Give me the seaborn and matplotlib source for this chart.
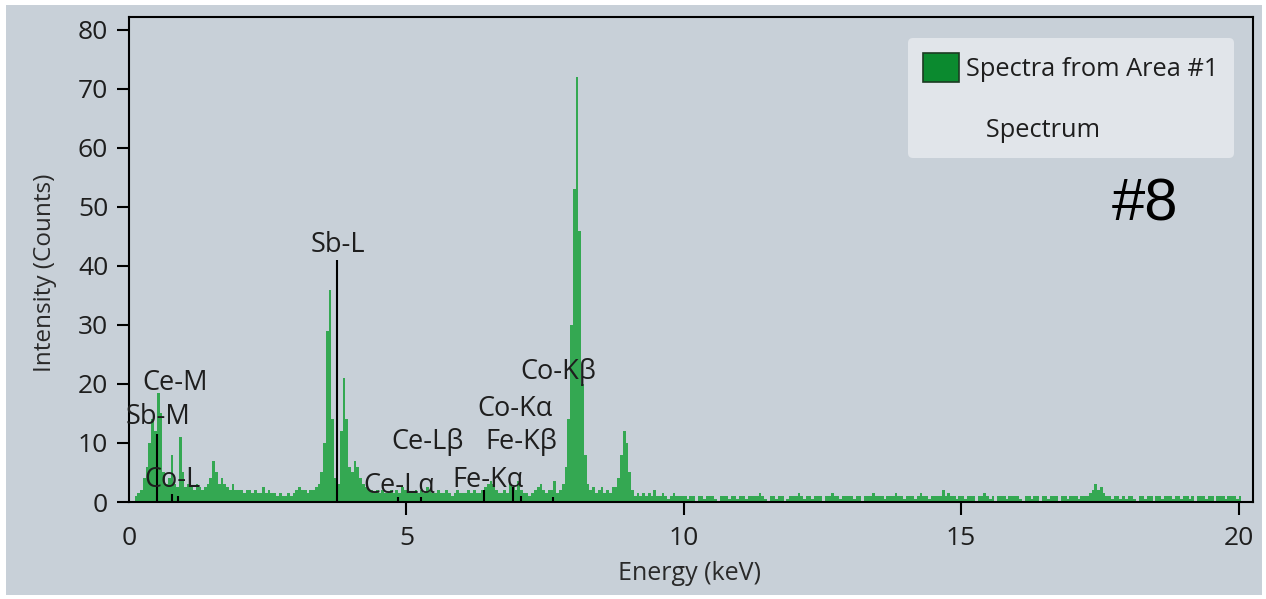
import numpy as np
import pandas as pd
import matplotlib
matplotlib.use("Agg")
import matplotlib.pyplot as plt
import seaborn as sns
from matplotlib.patches import Patch, Rectangle

# ---------------- data ----------------
BIN_WIDTH = 0.05  # keV per channel group
# counts per 0.05 keV bin, one row per keV (0-1, 1-2, ...)
counts_0 = [0, 0, 1, 1.5, 2, 4, 6, 10, 14, 12, 18.5, 15, 5, 3, 4, 8, 3, 2.5, 11, 5]
counts_1 = [2.5, 3, 2.5, 2, 3, 2.5, 2, 2.5, 3, 4, 7, 5, 3, 4, 3, 2.5, 2, 3, 2, 2]
counts_2 = [2, 1.5, 2, 2, 1.5, 2, 1.5, 1.5, 2.5, 1.5, 2, 1.5, 1.5, 1, 1.5, 1, 1, 1.5, 1, 1.5]
counts_3 = [2, 2.5, 2, 2, 1.5, 2, 2, 2.5, 3, 5, 10, 29, 36, 14, 4, 3, 12, 21, 14, 6]
counts_4 = [5, 7, 6, 4, 3, 2.5, 2, 2, 1.5, 2, 1.5, 2, 1.5, 1.5, 2, 1.5, 2, 1.5, 2.5, 2]
counts_5 = [2, 1.5, 1.5, 2, 1.5, 2, 1.5, 2.5, 2, 1.5, 1.5, 2, 1.5, 1.5, 2, 1.5, 1, 1.5, 2, 1.5]
counts_6 = [1.5, 1.5, 2, 1.5, 2, 1.5, 1.5, 2, 2.5, 3, 3.5, 3, 2, 1.5, 1.5, 2, 1.5, 3, 2.5, 2]
counts_7 = [3.5, 2, 1.5, 1.5, 1, 1.5, 2, 2.5, 3, 2, 1.5, 2, 2, 3.5, 1.5, 2, 3, 6, 14, 30]
counts_8 = [53, 72, 46, 20, 8, 3, 2, 2.5, 1.5, 2, 2.5, 1.5, 2, 1.5, 2.5, 2.5, 4, 8, 12, 10]
counts_9 = [5, 2, 1, 1.5, 1, 1.5, 1, 1.5, 1, 2, 1, 1, 1.5, 1, 0.5, 1, 1.5, 1, 1, 1]
counts_10 = [1, 0.5, 1, 1, 0, 1, 1, 0.5, 1, 1, 1, 0.5, 0, 1, 1, 1, 0.5, 1, 1, 0.5]
counts_11 = [1, 1, 0.5, 1, 1, 1, 1, 1.5, 1, 0.5, 0, 1, 1, 0.5, 1, 1, 0, 0.5, 1, 1]
counts_12 = [1, 1.5, 1, 0.5, 1, 1, 0.5, 1, 1, 1, 0, 1, 1, 1.5, 1, 1, 0.5, 1, 1, 1]
counts_13 = [1, 0.5, 1, 1, 0, 1, 1, 1, 1.5, 1, 1, 1, 0.5, 1, 1, 1, 1.5, 1, 1, 0.5]
counts_14 = [1, 1, 1, 0.5, 1, 1.5, 1, 1, 0.5, 1, 1, 1, 1, 2, 1, 1.5, 1, 1, 0.5, 1]
counts_15 = [1, 0.5, 1, 1, 1, 0, 1, 1, 1.5, 1, 0.5, 1, 0, 1, 1, 1, 0.5, 1, 1, 1]
counts_16 = [1, 0.5, 0, 1, 1, 0.5, 1, 1, 0, 1, 1, 0.5, 1, 1, 1, 0, 1, 1, 0.5, 1]
counts_17 = [1, 1, 0.5, 1, 1, 1, 1.5, 2, 3, 2, 2.5, 1.5, 1, 1, 0.5, 1, 1, 0.5, 1, 0.5]
counts_18 = [1, 1, 0.5, 0, 1, 1, 0.5, 1, 1, 0, 1, 1, 0.5, 1, 1, 1, 0.5, 1, 1, 0.5]
counts_19 = [1, 1, 0.5, 1, 0, 1, 1, 1, 0.5, 1, 1, 0, 1, 1, 1, 0.5, 1, 1, 1, 0.5]
counts_20 = [1]

counts = (counts_0 + counts_1 + counts_2 + counts_3 + counts_4 + counts_5 + counts_6
          + counts_7 + counts_8 + counts_9 + counts_10 + counts_11 + counts_12 + counts_13
          + counts_14 + counts_15 + counts_16 + counts_17 + counts_18 + counts_19 + counts_20)
energy = np.round(np.arange(len(counts)) * BIN_WIDTH + BIN_WIDTH / 2, 3)

# element marker lines (keV, height in counts)
line_energy = [0.50, 0.78, 0.88, 3.75, 4.84, 5.26, 6.40, 6.93, 7.06, 7.65]
line_height = [11.5, 1.4, 1.0, 41, 0.8, 0.8, 2.0, 2.5, 1.0, 0.8]

# element labels
label_text = ["Ce-M", "Sb-M", "Co-L", "Sb-L", "Ce-L\u03b1", "Ce-L\u03b2",
              "Fe-K\u03b1", "Fe-K\u03b2", "Co-K\u03b1", "Co-K\u03b2"]
label_x = [0.83, 0.52, 0.79, 3.77, 4.88, 5.39, 6.47, 7.08, 6.95, 7.73]
label_y = [20.2, 14.4, 3.7, 43.6, 2.7, 10.2, 3.7, 10.2, 15.8, 22.0]

x_ticks = [0, 5, 10, 15, 20]
y_ticks = [0, 10, 20, 30, 40, 50, 60, 70, 80]

BG = "#c8d0d8"
BAR = "#24a443"
TXT = "#1e1e1e"

# ---------------- plot ----------------
sns.set_theme(style="white")
plt.rcParams['font.family'] = ['Open Sans', 'DejaVu Sans']

fig = plt.figure(figsize=(12.66, 5.99), dpi=100, facecolor="white")
fig.patches.append(Rectangle((6 / 1266, 4 / 599), 1256 / 1266, 590 / 599,
                             transform=fig.transFigure, facecolor=BG,
                             edgecolor="none", zorder=-10))
ax = fig.add_axes([129 / 1266, 97 / 599, 1124 / 1266, 485 / 599])
ax.set_facecolor("none")

df = pd.DataFrame({"Energy": energy, "Counts": np.asarray(counts, dtype=float)})
sns.histplot(data=df, x="Energy", weights="Counts",
             binwidth=BIN_WIDTH, binrange=(0, len(counts) * BIN_WIDTH),
             color=BAR, alpha=0.9, edgecolor="none", linewidth=0, ax=ax)

ax.vlines(line_energy, 0, line_height, color="black", lw=1.5, zorder=3)
for t, x, y in zip(label_text, label_x, label_y):
    ax.text(x, y, t, ha="center", va="center", fontsize=19.5, color=TXT, zorder=4)

ax.set_xlim(0, 20.26)
ax.set_ylim(0, 82.2)
ax.set_xticks(x_ticks)
ax.set_yticks(y_ticks)
ax.tick_params(axis="both", which="major", direction="out", length=9, width=1.5,
               color="black", labelsize=19, labelcolor=TXT, pad=6,
               bottom=True, left=True)
ax.tick_params(axis="x", pad=8)
ax.xaxis.get_major_ticks()[0].tick1line.set_visible(False)
for s in ax.spines.values():
    s.set_visible(True)
    s.set_color("black")
    s.set_linewidth(1.5)

ax.set_xlabel("Energy (keV)", fontsize=18, color="#2a2a2a")
ax.set_ylabel("Intensity (Counts)", fontsize=17.5, color="#2a2a2a")
ax.xaxis.set_label_coords(0.499, -0.122)
ax.yaxis.set_label_coords(-0.064, 0.472)

handles = [Patch(facecolor="#0b8a2f", edgecolor="#1b3b22", linewidth=1.2),
           Patch(facecolor="none", edgecolor="none")]
labels = ["Spectra from Area #1", "   Spectrum"]
leg = ax.legend(handles, labels, loc="upper right",
                bbox_to_anchor=(1234 / 1266, 1 - 38 / 599), bbox_transform=fig.transFigure,
                borderaxespad=0, fontsize=18.3, frameon=True, fancybox=True,
                facecolor="#e1e5ea", edgecolor="none", framealpha=1,
                handlelength=1.4, handleheight=1.35, handletextpad=0.3,
                labelspacing=1.25, borderpad=0.6)
for txt in leg.get_texts():
    txt.set_color(TXT)

ax.text(0.904, 0.612, "#8", transform=ax.transAxes, ha="center", va="center",
        fontsize=43, family=["Liberation Sans", "DejaVu Sans"], color="black")

fig.savefig("out.png", dpi=100, facecolor=fig.get_facecolor())
